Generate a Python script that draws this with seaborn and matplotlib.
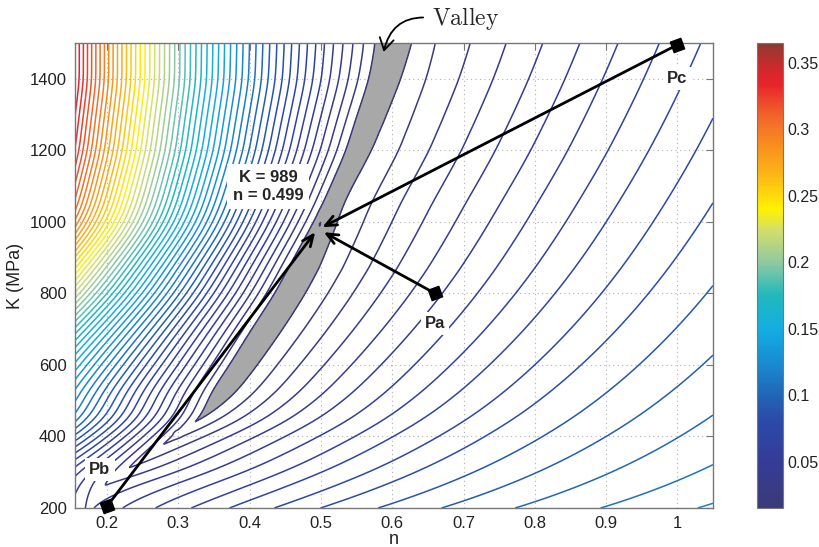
import numpy as np
import matplotlib
matplotlib.use("Agg")
import matplotlib.pyplot as plt
import seaborn as sns
import pandas as pd
from matplotlib.colors import LinearSegmentedColormap, Normalize
from matplotlib.cm import ScalarMappable

sns.set_style("white")
plt.rcParams['font.family'] = ['Liberation Sans', 'DejaVu Sans']
plt.rcParams['mathtext.fontset'] = 'cm'

# ---------------- data ----------------
n_limits = (0.155, 1.05)
K_limits = (200, 1500)
n_ticks = [0.2, 0.3, 0.4, 0.5, 0.6, 0.7, 0.8, 0.9, 1.0]
n_ticklabels = ["0.2", "0.3", "0.4", "0.5", "0.6", "0.7", "0.8", "0.9", "1"]
K_ticks = [200, 400, 600, 800, 1000, 1200, 1400]
cbar_ticks = [0.05, 0.1, 0.15, 0.2, 0.25, 0.3, 0.35]
cbar_ticklabels = ["0.05", "0.1", "0.15", "0.2", "0.25", "0.3", "0.35"]
err_min, err_max = 0.015, 0.365
level_first, level_step = 0.0175, 0.0065

# valley (error minimum line): n-position versus K
valley_K = [200, 268, 300, 400, 450, 600, 800, 989, 1200, 1400, 1500]
valley_n = [0.17, 0.195, 0.222, 0.295, 0.333, 0.385, 0.448, 0.497, 0.548, 0.583, 0.593]
# error along the valley floor
floor_K = [200, 268, 300, 380, 440, 520, 700, 900, 1050, 1250, 1500]
floor_err = [0.043, 0.0375, 0.031, 0.024, 0.0172, 0.0112, 0.0102, 0.0108, 0.0122, 0.0108, 0.0112]
# high-n side: error versus u = 3 n - ln K (contours follow ln K = 3 n - u)
right_slope_lnK = 3.0
right_u = [-5.6, -5.46, -5.37, -4.6, -4.2, -3.8, -3.4, -3.0, -2.6, -2.2, -2.0]
right_err = [0.011, 0.0175, 0.024, 0.0553, 0.0701, 0.0829, 0.0933, 0.1017, 0.1089, 0.1152, 0.1182]
right_blend = 0.12
# low-n side of the valley
left_K = [200, 300, 400, 600, 800, 1000, 1500]
left_slope = [0.3, 0.4, 0.5, 0.5, 0.55, 0.58, 0.36]
left_curv = [0.0, 0.1, 0.25, 0.35, 0.55, 0.75, 0.9]
# small local minima
minima_n = [0.499, 0.298]
minima_K = [985, 407]
minima_depth = [0.0025, 0.0035]
minima_wn = [0.003, 0.004]
minima_wK = [30, 8]
opt_level = 0.0098

# optimum and start points
opt_label = "K = 989\nn = 0.499"
points = ["Pa", "Pb", "Pc"]
points_n = [0.66, 0.20, 1.00]
points_K = [800, 205, 1495]
label_n = [0.66, 0.19, 1.00]
label_K = [716, 308, 1400]
arrow_tip_n = [0.504, 0.492, 0.502]
arrow_tip_K = [971, 971, 985]

# ---------------- error surface ----------------
n_grid = np.linspace(n_limits[0], n_limits[1], 700)
K_grid = np.linspace(K_limits[0], K_limits[1], 700)
nn, KK = np.meshgrid(n_grid, K_grid)


def profile(xk, yv, sigma=14):
    p = np.interp(K_grid, xk, yv)
    r = 3 * sigma
    kern = np.exp(-0.5 * (np.arange(-r, r + 1) / sigma) ** 2)
    kern /= kern.sum()
    p = np.convolve(np.pad(p, r, mode="edge"), kern, mode="valid")
    return np.repeat(p[:, None], len(n_grid), axis=1)


nv = profile(valley_K, valley_n)
fl = profile(floor_K, floor_err)
a = profile(left_K, left_slope, 25)
b = profile(left_K, left_curv, 25)

d = nn - nv
u = right_slope_lnK * nn - np.log(KK)
u_v = right_slope_lnK * nv - np.log(KK)
F = np.interp(u, right_u, right_err)
F_v = np.interp(u_v, right_u, right_err)
right = F + (fl - F_v) * np.exp(-np.clip(d, 0, None) / right_blend)
left = fl + a * (-d) + b * d ** 2
err = np.where(d >= 0, right, left)
for mn, mK, dep, sn, sk in zip(minima_n, minima_K, minima_depth, minima_wn, minima_wK):
    err = err - dep * np.exp(-((nn - mn) / sn) ** 2 - ((KK - mK) / sk) ** 2)

# ---------------- colormap ----------------
cnodes = [0.015, 0.05, 0.08, 0.10, 0.125, 0.15, 0.175, 0.20, 0.225, 0.24, 0.265, 0.29, 0.31, 0.335, 0.35, 0.365]
ccols = ["#3b3a78", "#353c98", "#2b4aa8", "#2166b6", "#188dd3", "#13aee2", "#22b8bc",
         "#8ec9a2", "#d5df68", "#fff200", "#fcb815", "#f78b1f", "#f2662a", "#e8232b", "#c62c2c", "#8c3a30"]
pos = [(v - err_min) / (err_max - err_min) for v in cnodes]
cmap = LinearSegmentedColormap.from_list("jetlike", list(zip(pos, ccols)))
norm = Normalize(err_min, err_max)

# ---------------- figure ----------------
fig = plt.figure(figsize=(8.19, 5.47), dpi=100)
ax = fig.add_axes([75 / 819, 1 - 508 / 547, (713 - 75) / 819, (508 - 43) / 547])
cax = fig.add_axes([757 / 819, 1 - 508 / 547, (783 - 757) / 819, (508 - 43) / 547])

levels = np.arange(level_first, err_max, level_step)
ax.contourf(nn, KK, err, levels=[err.min() - 1, level_first], colors=["#a8a8a8"], zorder=1)
ax.contour(nn, KK, err, levels=levels, cmap=cmap, norm=norm, linewidths=1.1, zorder=2)
ax.contour(nn, KK, err, levels=[opt_level], colors=[cmap(0.0)], linewidths=1.1, zorder=2)

ax.set_xlim(*n_limits)
ax.set_ylim(*K_limits)
ax.set_xticks(n_ticks)
ax.set_xticklabels(n_ticklabels)
ax.set_yticks(K_ticks)
ax.grid(True, linestyle=(0, (1, 3)), color="#b0b0b0", linewidth=0.8)
ax.set_axisbelow(True)
ax.tick_params(direction="in", length=5, width=0.8, color="#777777", top=True, right=True,
               labelsize=12, labelcolor="#222222", pad=6)
for s in ax.spines.values():
    s.set_color("#777777")
    s.set_linewidth(1.0)

# arrows to the optimum
for pn, pK, tn, tK in zip(points_n, points_K, arrow_tip_n, arrow_tip_K):
    ax.annotate("", xy=(tn, tK), xytext=(pn, pK),
                arrowprops=dict(arrowstyle="->,head_length=0.8,head_width=0.35", lw=2.0,
                                color="black", shrinkA=0, shrinkB=0), zorder=5)

df = pd.DataFrame({"n": points_n, "K": points_K, "name": points})
sns.scatterplot(data=df, x="n", y="K", marker=(4, 0, 65), s=130, color="black", ax=ax,
                legend=False, clip_on=False, zorder=6, edgecolor="black")
ax.set_xlabel("n", fontsize=13, color="#222222", labelpad=0)
ax.set_ylabel("K (MPa)", fontsize=13, color="#222222", labelpad=4)

box = dict(boxstyle="square,pad=0.25", fc="white", ec="none")
for name, ln, lk in zip(points, label_n, label_K):
    ax.text(ln, lk, name, fontsize=12, fontweight="bold", ha="center", va="center",
            bbox=box, zorder=4)
ax.text(0.426, 1098, opt_label, fontsize=12, fontweight="bold", ha="center", va="center",
        linespacing=1.25, bbox=dict(boxstyle="square,pad=0.35", fc="white", ec="none"), zorder=4)

# Valley annotation
ax.annotate(r"$\mathrm{Valley}$", xy=(0.588, 1475), xycoords="data",
            xytext=(432, 529), textcoords="figure pixels", fontsize=17, ha="left", va="center",
            arrowprops=dict(arrowstyle="->,head_length=0.5,head_width=0.3", lw=1.3, color="black",
                            connectionstyle="arc3,rad=0.45", relpos=(0, 0.5), shrinkA=4, shrinkB=0),
            annotation_clip=False, zorder=7)

# colorbar
cb = fig.colorbar(ScalarMappable(norm=norm, cmap=cmap), cax=cax)
cb.set_ticks(cbar_ticks)
cb.set_ticklabels(cbar_ticklabels)
cb.outline.set_edgecolor("#777777")
cb.ax.tick_params(direction="in", length=4, color="#555555", labelsize=11.5, labelcolor="#222222", pad=3)

fig.savefig("out.png", dpi=100)
